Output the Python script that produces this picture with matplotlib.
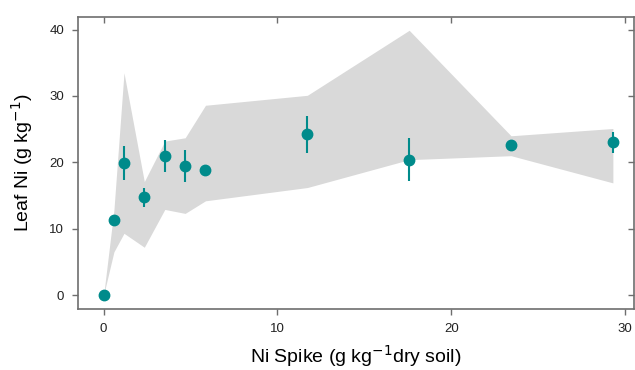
import matplotlib
matplotlib.use("Agg")
from matplotlib import pyplot as plt

plt.rcParams['font.family'] = ['Liberation Sans', 'DejaVu Sans']

# Ni spike levels (g/kg dry soil) and measured leaf Ni (g/kg)
spike = [0, 0.59, 1.17, 2.34, 3.52, 4.69, 5.86, 11.72, 17.58, 23.44, 29.3]
leaf_ni = [0.0, 11.3, 19.9, 14.7, 21.0, 19.5, 18.8, 24.2, 20.4, 22.6, 23.0]
leaf_err = [0.1, 0.6, 2.5, 1.4, 2.4, 2.4, 0.3, 2.8, 3.2, 0.3, 1.6]

# predicted range (grey band)
band_low = [0.0, 6.5, 9.3, 7.2, 12.9, 12.3, 14.2, 16.2, 20.4, 21.0, 16.9]
band_high = [0.0, 12.8, 33.5, 17.1, 23.2, 23.7, 28.6, 30.1, 39.9, 24.0, 25.1]

x_ticks = [0, 10, 20, 30]
y_ticks = [0, 10, 20, 30, 40]

teal = '#008b8b'
spine_col = '#6e6e6e'

fig = plt.figure(figsize=(6.35, 3.7), dpi=100)
ax = fig.add_axes([0.123, 0.165, 0.875, 0.789])

ax.fill_between(spike, band_low, band_high, color='#d9d9d9', linewidth=0)
ax.errorbar(spike, leaf_ni, yerr=leaf_err, fmt='o', color=teal, ecolor=teal,
            markersize=7.5, elinewidth=1.5, capsize=0, zorder=3)

ax.set_xlim(-1.47, 30.5)
ax.set_ylim(-2.1, 41.9)
ax.set_xticks(x_ticks)
ax.set_yticks(y_ticks)

for s in ax.spines.values():
    s.set_color(spine_col)
    s.set_linewidth(1.2)

ax.tick_params(axis='both', direction='out', length=4, width=1, color=spine_col,
               labelsize=9.5, labelcolor='#222222', pad=6)
ax.tick_params(top=True, right=True)
# top/right ticks point inwards
for t in ax.xaxis.get_major_ticks():
    t.tick2line.set_marker(matplotlib.lines.TICKDOWN)
for t in ax.yaxis.get_major_ticks():
    t.tick2line.set_marker(matplotlib.lines.TICKLEFT)

ax.set_xlabel('Ni Spike (g kg$^{-1}$dry soil)', fontsize=14, labelpad=6)
ax.set_ylabel('Leaf Ni (g kg$^{-1}$)', fontsize=14, labelpad=10)

fig.savefig('out.png', dpi=100)
